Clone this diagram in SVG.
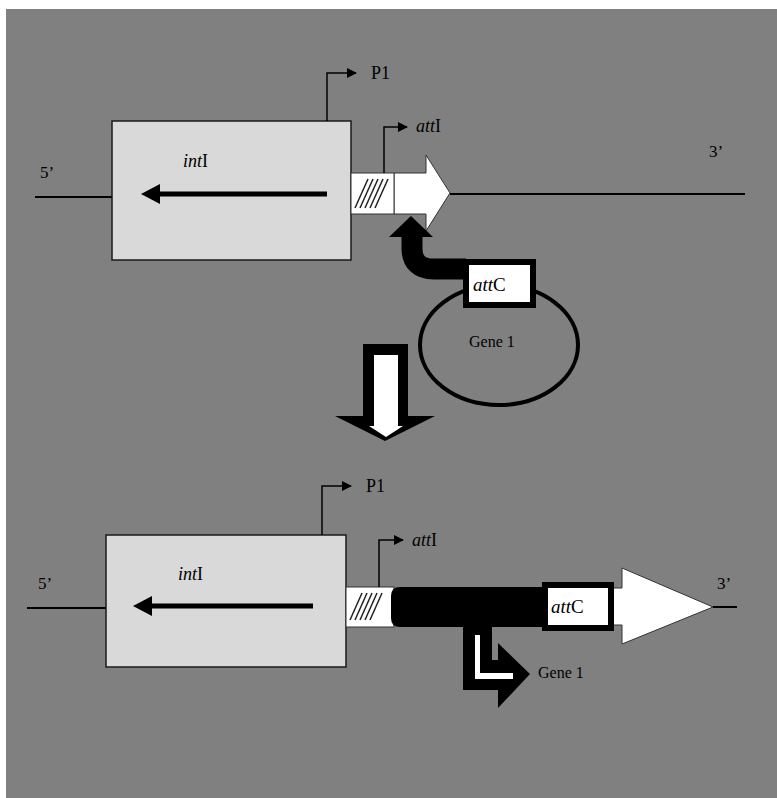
<svg xmlns="http://www.w3.org/2000/svg" width="777" height="798" viewBox="0 0 777 798">
<style>
  .t { font-family: "Liberation Serif", "Times New Roman", serif; fill: #000; }
  .box { fill: #d9d9d9; stroke: #1a1a1a; stroke-width: 1.5; }
  .ln { stroke: #000; stroke-width: 2; fill: none; }
  .thin { stroke: #000; stroke-width: 1.5; fill: none; }
  .hatch { stroke: #222; stroke-width: 1.5; }
  .att { fill: #fff; stroke: #000; stroke-width: 6; }
</style>
<defs>
  <marker id="ah" viewBox="0 0 10 10" refX="9" refY="5" markerWidth="10" markerHeight="10" markerUnits="userSpaceOnUse" orient="auto">
    <path d="M0,0 L10,5 L0,10 Z" fill="#000"/>
  </marker>
</defs>
<rect x="0" y="0" width="777" height="798" fill="#fff"/>
<rect x="6" y="9" width="771" height="789" fill="#808080"/>

<g id="connectors">
  <line class="ln" x1="35" y1="197" x2="112" y2="197"/>
  <line class="ln" x1="450" y1="194" x2="745" y2="194"/>
  <line class="ln" x1="27" y1="608" x2="106" y2="608"/>
  <line class="ln" x1="713" y1="607" x2="737" y2="607"/>
</g>

<g id="top-intI">
  <rect class="box" x="112" y="121" width="239" height="139"/>
  <text class="t" x="183" y="167" font-size="18"><tspan font-style="italic">int</tspan>I</text>
  <line x1="327" y1="194" x2="156" y2="194" stroke="#000" stroke-width="5"/>
  <polygon points="141,194 160,184 160,204" fill="#000"/>
  <text class="t" x="40" y="178" font-size="17">5’</text>
  <text class="t" x="709" y="157" font-size="17">3’</text>
</g>

<g id="top-P1">
  <polyline class="thin" points="327,121 327,73 356,73" marker-end="url(#ah)"/>
  <text class="t" x="371" y="79" font-size="18">P1</text>
</g>

<g id="top-attI">
  <polygon points="394,173 426,173 426,155 450,193 426,231 426,214 394,214" fill="#fff" stroke="#333" stroke-width="1"/>
  <rect x="351" y="173" width="43" height="41" fill="#fff" stroke="#333" stroke-width="1"/>
  <line class="hatch" x1="355" y1="208" x2="368" y2="179"/>
  <line class="hatch" x1="360" y1="208" x2="373" y2="179"/>
  <line class="hatch" x1="365" y1="208" x2="378" y2="179"/>
  <line class="hatch" x1="370" y1="208" x2="383" y2="179"/>
  <line class="hatch" x1="375" y1="208" x2="388" y2="179"/>
  <polyline class="thin" points="384,173 384,127 407,127" marker-end="url(#ah)"/>
  <text class="t" x="416" y="132" font-size="18"><tspan font-style="italic">att</tspan>I</text>
</g>

<g id="cassette">
  <ellipse cx="499" cy="345" rx="79" ry="60" fill="none" stroke="#000" stroke-width="4"/>
  <path d="M412,234 L412,248 Q412,269 434,269 L466,269" fill="none" stroke="#000" stroke-width="21"/>
  <polygon points="389,237 433,237 411,216" fill="#000"/>
  <rect class="att" x="466" y="262" width="67" height="43"/>
  <text class="t" x="473" y="291" font-size="19"><tspan font-style="italic">att</tspan>C</text>
  <text class="t" x="469" y="347" font-size="16">Gene 1</text>
</g>

<g id="down-arrow">
  <polygon points="363,344 408,344 408,416 435,416 385,441 335,416 363,416" fill="#000"/>
  <polygon points="374,355 398,355 398,426 403,426 386,437 369,426 374,426" fill="#fff"/>
</g>

<g id="bottom-intI">
  <rect class="box" x="106" y="535" width="240" height="132"/>
  <text class="t" x="178" y="580" font-size="18"><tspan font-style="italic">int</tspan>I</text>
  <line x1="313" y1="606" x2="148" y2="606" stroke="#000" stroke-width="5"/>
  <polygon points="133,606 152,596 152,616" fill="#000"/>
  <text class="t" x="38" y="589" font-size="17">5’</text>
  <text class="t" x="717" y="589" font-size="17">3’</text>
</g>

<g id="bottom-P1">
  <polyline class="thin" points="322,535 322,486 351,486" marker-end="url(#ah)"/>
  <text class="t" x="366" y="492" font-size="18">P1</text>
</g>

<g id="bottom-attI">
  <rect x="346" y="587" width="48" height="40" fill="#fff" stroke="#333" stroke-width="1"/>
  <line class="hatch" x1="350" y1="620" x2="362" y2="593"/>
  <line class="hatch" x1="355" y1="620" x2="367" y2="593"/>
  <line class="hatch" x1="360" y1="620" x2="372" y2="593"/>
  <line class="hatch" x1="365" y1="620" x2="377" y2="593"/>
  <line class="hatch" x1="370" y1="620" x2="382" y2="593"/>
  <path d="M400,587 L545,587 L545,627 L400,627 Q391,627 391,618 L391,596 Q391,587 400,587 Z" fill="#000"/>
  <polyline class="thin" points="379,587 379,540 403,540" marker-end="url(#ah)"/>
  <text class="t" x="412" y="546" font-size="18"><tspan font-style="italic">att</tspan>I</text>
</g>

<g id="bottom-attC">
  <polygon points="613,588 622,588 622,568 713,607 622,644 622,625 613,625" fill="#fff" stroke="#333" stroke-width="1"/>
  <rect class="att" x="545" y="585" width="66" height="43"/>
  <text class="t" x="551" y="613" font-size="19"><tspan font-style="italic">att</tspan>C</text>
</g>

<g id="gene1-arrow">
  <polygon points="463,625 492,625 492,660 498,660 498,643 530,674 498,708 498,690 463,690" fill="#000"/>
  <polygon points="475,635 480,635 480,673 513,673 513,679 475,679" fill="#fff"/>
  <text class="t" x="538" y="678" font-size="16">Gene 1</text>
</g>
</svg>
